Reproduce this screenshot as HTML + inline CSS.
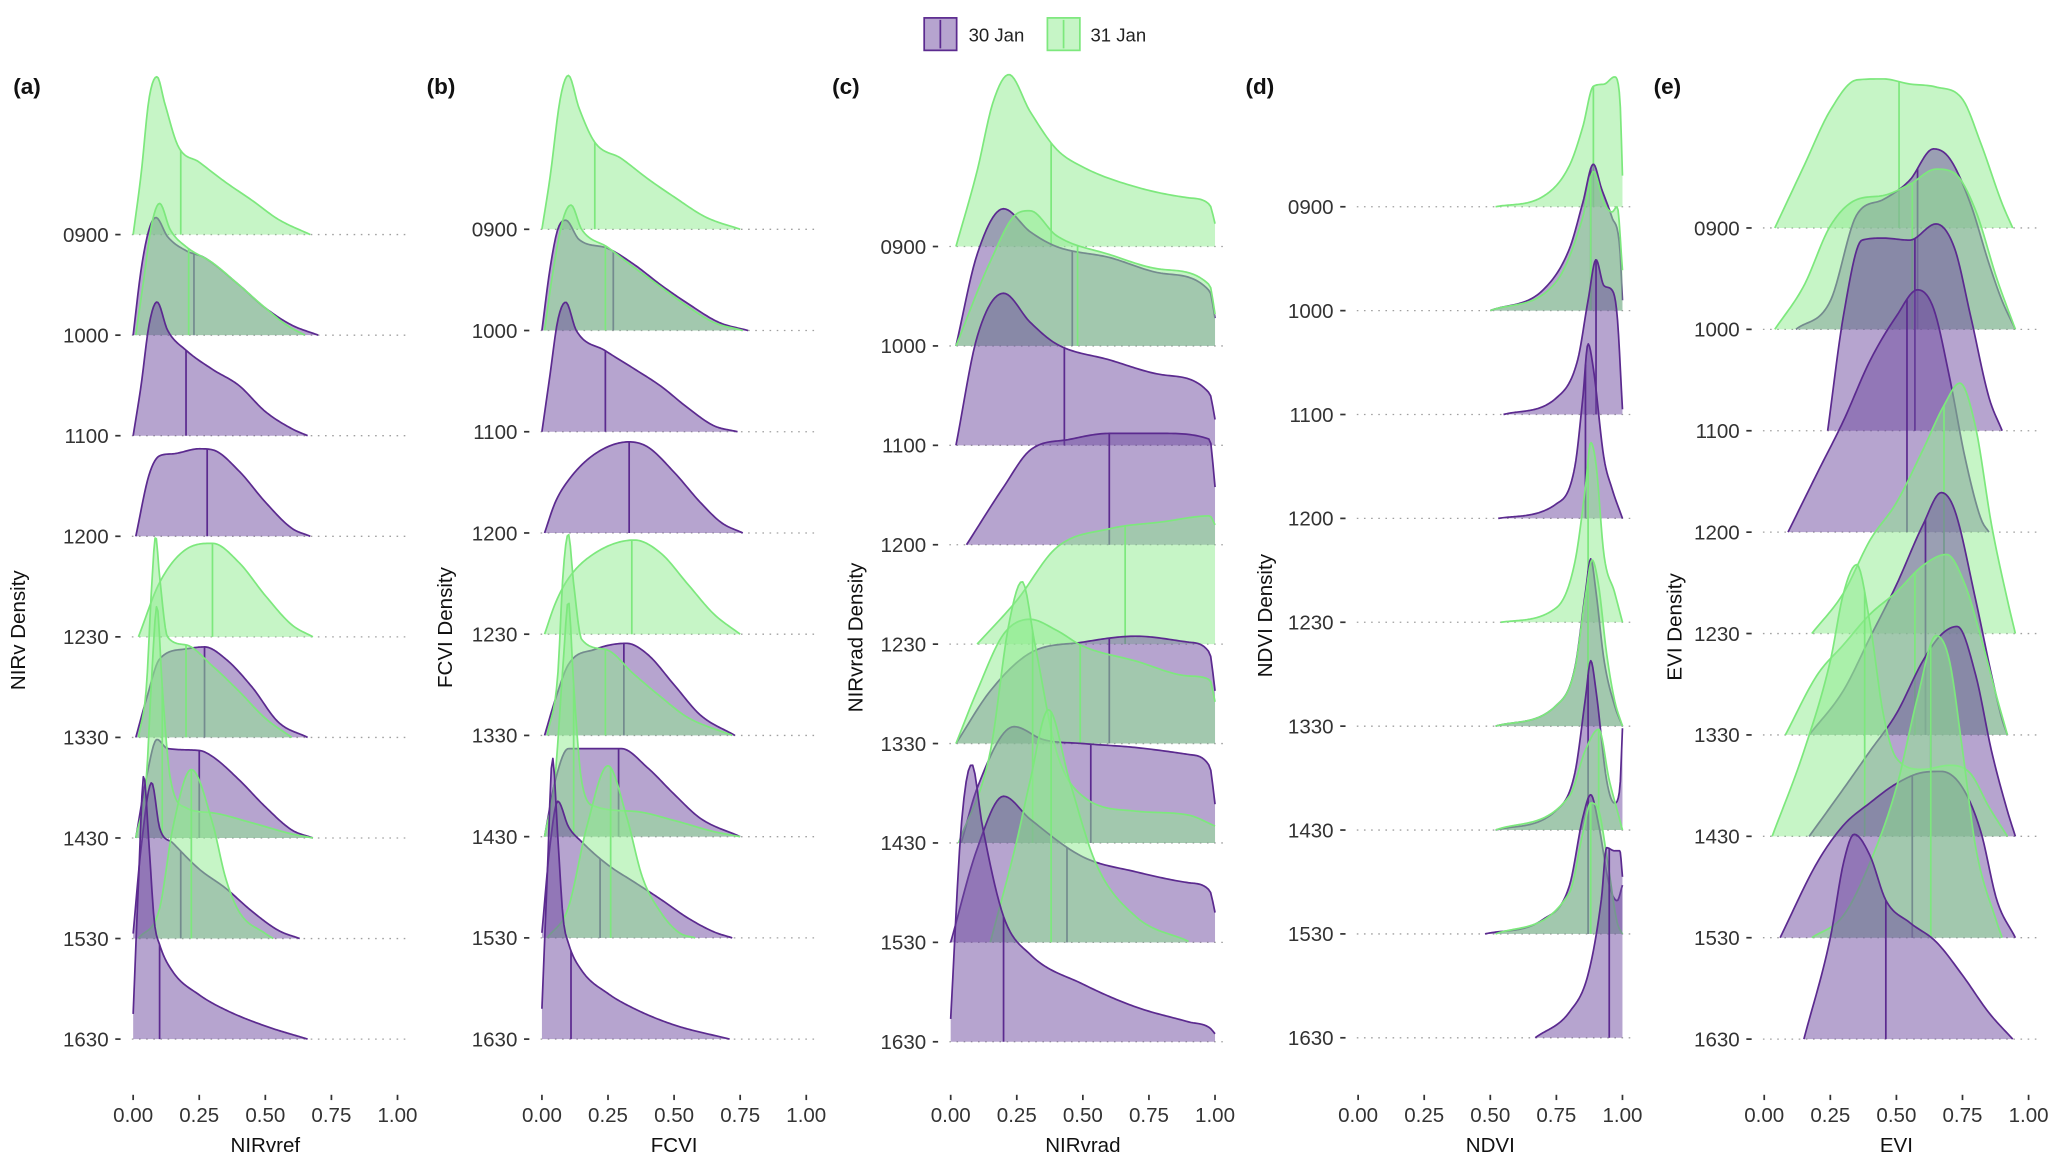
<!DOCTYPE html>
<html><head><meta charset="utf-8"><title>Ridgeline densities</title>
<style>
html,body{margin:0;padding:0;background:#fff;}
svg{display:block;}
text{font-family:"Liberation Sans",Arial,sans-serif;}
</style></head>
<body>
<svg id="chart" width="2067" height="1169" viewBox="0 0 1560 882" preserveAspectRatio="none" xmlns="http://www.w3.org/2000/svg">
  <g>
    <rect x="697.5" y="13.5" width="24.5" height="24.5" fill="#6d499f" fill-opacity="0.5" stroke="#5b2a8f" stroke-width="1.3"/>
    <line x1="709.7" y1="15" x2="709.7" y2="36.5" stroke="#5b2a8f" stroke-width="1.3"/>
    <text x="731" y="31.5" font-size="14" fill="#222">30 Jan</text>
    <rect x="790.5" y="13.5" width="24.5" height="24.5" fill="#8deb8d" fill-opacity="0.5" stroke="#7de87d" stroke-width="1.3"/>
    <line x1="802.7" y1="15" x2="802.7" y2="36.5" stroke="#7de87d" stroke-width="1.3"/>
    <text x="823" y="31.5" font-size="14" fill="#222">31 Jan</text>
  </g>
</svg>
<script>
// ---------- data ----------
const rowLabels = ['0900','1000','1100','1200','1230','1330','1430','1530','1630'];
const xTickValues = [0, 0.25, 0.5, 0.75, 1.0];
const xTickLabels = ['0.00','0.25','0.50','0.75','1.00'];
const panelLetters = ['(a)','(b)','(c)','(d)','(e)'];
const xTitles = ['NIRvref','FCVI','NIRvrad','NDVI','EVI'];
const yTitles = ['NIRv Density','FCVI Density','NIRvrad Density','NDVI Density','EVI Density'];
const dateNames = ['30 Jan','31 Jan'];
// ridge: row index, date index (0 = 30 Jan, 1 = 31 Jan), median, x values, density heights (in row units)
const ridgesA = [
 {row:0,date:1,med:0.18,x:[0,.03,.06,.09,.12,.17,.25,.35,.45,.55,.67],h:[0,.6,1.35,1.57,1.3,.88,.72,.52,.34,.15,0]},
 {row:1,date:0,med:0.23,x:[0,.03,.06,.086,.13,.2,.27,.4,.5,.6,.7],h:[0,.65,1.05,1.17,.98,.84,.77,.5,.27,.1,0]},
 {row:1,date:1,med:0.21,x:[0.01,.04,.07,.1,.14,.2,.3,.4,.5,.58,.65],h:[0,.55,1.1,1.31,1.05,.88,.72,.5,.27,.1,0]},
 {row:2,date:0,med:0.2,x:[0,.03,.06,.09,.13,.2,.3,.4,.5,.6,.66],h:[0,.5,1.1,1.33,1.05,.85,.66,.5,.24,.07,0]},
 {row:3,date:0,med:0.28,x:[0.01,.06,.1,.15,.25,.3,.4,.5,.6,.67],h:[0,.61,.8,.82,.87,.86,.65,.34,.08,0]},
 {row:4,date:1,med:0.3,x:[0.02,.1,.2,.3,.4,.5,.6,.68],h:[0,.54,.87,.93,.74,.41,.12,0]},
 {row:5,date:0,med:0.27,x:[0.01,.05,.1,.2,.27,.35,.45,.55,.66],h:[0,.38,.78,.88,.9,.78,.5,.15,0]},
 {row:5,date:1,med:0.2,x:[0.02,.05,.07,.085,.1,.13,.2,.3,.4,.5,.6],h:[0,.5,1.5,2.0,1.6,1.0,.92,.71,.46,.19,0]},
 {row:6,date:0,med:0.25,x:[0.01,.05,.09,.13,.25,.3,.4,.5,.6,.68],h:[0,.6,.98,.89,.87,.81,.58,.31,.08,0]},
 {row:6,date:1,med:0.11,x:[0.01,.05,.07,.09,.11,.14,.2,.3,.45,.6,.68],h:[0,.6,1.6,2.31,1.5,.6,.3,.25,.15,.04,0]},
 {row:7,date:0,med:0.18,x:[0,.03,.07,.1,.15,.25,.35,.45,.55,.63],h:[0.05,.9,1.55,1.1,.95,.69,.5,.27,.08,0]},
 {row:7,date:1,med:0.22,x:[0.02,.1,.15,.22,.3,.35,.4,.5,.53],h:[0,.3,1.1,1.68,1.15,.6,.27,.05,0]},
 {row:8,date:0,med:0.1,x:[0,.02,.04,.06,.08,.1,.15,.25,.35,.5,.66],h:[0.25,1.55,2.62,1.93,1.17,.94,.67,.44,.29,.13,0]}
];
const ridgesB = [
 {row:0,date:1,med:0.2,x:[0,.03,.07,.1,.14,.2,.3,.4,.5,.62,.75],h:[0,.5,1.3,1.52,1.2,.86,.7,.5,.32,.12,0]},
 {row:1,date:0,med:0.27,x:[0,.03,.06,.09,.14,.25,.35,.45,.55,.67,.78],h:[0,.6,1.0,1.09,.9,.81,.65,.45,.27,.08,0]},
 {row:1,date:1,med:0.24,x:[0.01,.04,.08,.11,.15,.25,.35,.45,.55,.65,.76],h:[0,.55,1.1,1.24,1.0,.82,.62,.43,.24,.08,0]},
 {row:2,date:0,med:0.24,x:[0,.03,.06,.09,.13,.24,.35,.45,.55,.65,.74],h:[0,.55,1.1,1.28,1.0,.8,.62,.45,.24,.06,0]},
 {row:3,date:0,med:0.33,x:[0.01,.05,.1,.2,.33,.4,.5,.6,.68,.76],h:[0,.3,.52,.78,.9,.85,.6,.3,.1,0]},
 {row:4,date:1,med:0.34,x:[0.01,.05,.1,.2,.35,.45,.55,.65,.75],h:[0,.3,.55,.8,.93,.8,.5,.2,0]},
 {row:5,date:0,med:0.31,x:[0.01,.05,.1,.2,.32,.4,.5,.6,.73],h:[0,.35,.7,.85,.91,.8,.5,.2,0]},
 {row:5,date:1,med:0.24,x:[0.02,.06,.08,.1,.12,.15,.24,.35,.45,.55,.72],h:[0,.6,1.6,1.99,1.5,.95,.85,.6,.38,.18,0]},
 {row:6,date:0,med:0.29,x:[0.01,.05,.1,.2,.3,.4,.5,.6,.75],h:[0,.55,.87,.87,.87,.68,.42,.18,0]},
 {row:6,date:1,med:0.12,x:[0.01,.05,.08,.1,.12,.15,.2,.35,.5,.65,.75],h:[0,.6,1.7,2.33,1.5,.55,.3,.25,.16,.05,0]},
 {row:7,date:0,med:0.22,x:[0,.03,.06,.1,.15,.25,.35,.45,.55,.65,.72],h:[0.05,.9,1.35,1.1,.95,.72,.55,.38,.2,.06,0]},
 {row:7,date:1,med:0.26,x:[0.02,.1,.17,.25,.32,.38,.45,.52,.58],h:[0,.3,1.1,1.7,1.2,.6,.25,.05,0]},
 {row:8,date:0,med:0.11,x:[0,.02,.04,.06,.08,.1,.15,.25,.35,.5,.71],h:[0.3,1.6,2.78,2.0,1.2,.95,.68,.45,.3,.14,0]}
];
const ridgesC = [
 {row:0,date:1,med:0.38,x:[0.02,.1,.16,.22,.3,.4,.5,.7,.9,.98,1.0],h:[0,.76,1.45,1.73,1.36,.98,.8,.6,.49,.42,.23]},
 {row:1,date:0,med:0.46,x:[0.02,.1,.2,.3,.4,.6,.8,.98,1.0],h:[0,.92,1.38,1.15,1.0,.89,.73,.55,.28]},
 {row:1,date:1,med:0.48,x:[0.02,.15,.25,.3,.4,.6,.8,.98,1.0],h:[0,.85,1.33,1.36,1.11,.92,.77,.61,.32]},
 {row:2,date:0,med:0.43,x:[0.02,.1,.2,.3,.4,.6,.8,.98,1.0],h:[0,1.09,1.53,1.24,1.02,.86,.71,.52,.26]},
 {row:3,date:0,med:0.6,x:[0.06,.2,.3,.45,.6,.8,.98,1.0],h:[0,.58,.95,1.06,1.12,1.12,1.06,.58]},
 {row:4,date:1,med:0.66,x:[0.1,.25,.4,.6,.8,.98,1.0],h:[0,.44,.97,1.16,1.23,1.29,1.2]},
 {row:5,date:0,med:0.6,x:[0.02,.15,.3,.5,.7,.9,.98,1.0],h:[0,.53,.91,1.02,1.08,1.02,.91,.53]},
 {row:5,date:1,med:0.49,x:[0.02,.1,.2,.3,.4,.5,.7,.9,.98,1.0],h:[0,.53,1.1,1.25,1.14,.98,.83,.68,.64,.42]},
 {row:6,date:0,med:0.53,x:[0.04,.1,.24,.35,.5,.7,.9,.98,1.0],h:[0,.55,1.17,1.04,1.0,.96,.89,.77,.39]},
 {row:6,date:1,med:0.31,x:[0.03,.15,.22,.27,.32,.4,.5,.7,.9,1.0],h:[0,.92,2.2,2.63,1.98,.92,.47,.32,.28,.17]},
 {row:7,date:0,med:0.44,x:[0,.1,.2,.3,.5,.7,.9,.98,1.0],h:[0,.94,1.47,1.24,.86,.71,.6,.52,.3]},
 {row:7,date:1,med:0.38,x:[0.15,.25,.3,.37,.45,.55,.7,.9],h:[0,1.02,1.62,2.34,1.62,.79,.26,0.01]},
 {row:8,date:0,med:0.2,x:[0,.04,.08,.12,.2,.3,.5,.7,.9,.98,1.0],h:[0.23,2.17,2.79,2.17,1.26,.88,.58,.35,.2,.14,.08]}
];
const ridgesD = [
 {row:0,date:1,med:0.89,x:[0.52,.7,.8,.85,.89,.93,.97,.99,1.0],h:[0,.1,.4,.77,1.16,1.18,1.25,1.05,.3]},
 {row:1,date:0,med:0.88,x:[0.5,.7,.8,.85,.89,.92,.96,.99,1.0],h:[0,.2,.6,1.04,1.41,1.18,.9,.6,.1]},
 {row:1,date:1,med:0.88,x:[0.5,.75,.85,.89,.93,.96,.98,1.0],h:[0,.28,.9,1.34,1.04,.95,1.0,.39]},
 {row:2,date:0,med:0.9,x:[0.55,.75,.83,.87,.9,.93,.96,.98,1.0],h:[0,.16,.52,1.1,1.49,1.24,1.2,.95,.05]},
 {row:3,date:0,med:0.86,x:[0.53,.75,.82,.85,.87,.89,.93,.96,1.0],h:[0,.14,.5,1.16,1.68,1.44,.58,.29,0]},
 {row:4,date:1,med:0.87,x:[0.54,.75,.82,.86,.88,.9,.93,.97,1.0],h:[0,.14,.58,1.3,1.73,1.52,.65,.29,0]},
 {row:5,date:0,med:0.87,x:[0.52,.75,.82,.86,.88,.9,.93,.97,1.0],h:[0,.2,.56,1.29,1.61,1.29,.64,.2,0]},
 {row:5,date:1,med:0.87,x:[0.52,.75,.82,.86,.885,.91,.94,.97,1.0],h:[0,.2,.55,1.25,1.6,1.35,.7,.25,0]},
 {row:6,date:0,med:0.87,x:[0.52,.75,.82,.86,.88,.9,.94,.97,.99,1.0],h:[0,.19,.55,1.27,1.63,1.34,.48,.26,.4,.98]},
 {row:6,date:1,med:0.91,x:[0.52,.8,.86,.91,.95,.98,1.0],h:[0,.33,.77,.97,.48,.19,0]},
 {row:7,date:0,med:0.87,x:[0.48,.7,.8,.85,.88,.91,.95,.98,1.0],h:[0,.14,.47,1.12,1.34,1.05,.47,.32,.47]},
 {row:7,date:1,med:0.88,x:[0.52,.8,.85,.88,.91,.94,.98,1.0],h:[0,.4,.97,1.26,1.19,.76,.11,0]},
 {row:8,date:0,med:0.95,x:[0.67,.8,.87,.92,.94,.97,.99,1.0],h:[0,.25,.61,1.33,1.83,1.8,1.8,1.55]}
];
const ridgesE = [
 {row:0,date:1,med:0.51,x:[0.04,.15,.25,.35,.45,.55,.65,.75,.82,.9,.94],h:[0,.61,1.16,1.46,1.47,1.42,1.39,1.27,.83,.24,0]},
 {row:1,date:0,med:0.58,x:[0.12,.25,.35,.45,.55,.64,.7,.78,.85,.9,.95],h:[0,.28,1.13,1.28,1.47,1.78,1.69,1.24,.65,.28,0]},
 {row:1,date:1,med:0.56,x:[0.04,.15,.25,.35,.45,.55,.65,.72,.8,.88,.95],h:[0,.43,1.02,1.28,1.32,1.43,1.58,1.54,1.17,.5,0]},
 {row:2,date:0,med:0.57,x:[0.24,.3,.37,.45,.55,.65,.72,.78,.85,.9],h:[0,1.14,1.88,1.9,1.88,2.04,1.8,1.14,.33,0]},
 {row:3,date:0,med:0.54,x:[0.09,.2,.3,.4,.5,.58,.64,.7,.76,.82,.85],h:[0,.58,1.1,1.69,2.13,2.39,2.21,1.54,.73,.13,0]},
 {row:4,date:1,med:0.68,x:[0.18,.3,.4,.5,.6,.68,.74,.8,.86,.92,.95],h:[0,.4,.92,1.29,1.81,2.25,2.47,2.03,1.07,.33,0]},
 {row:5,date:0,med:0.61,x:[0.17,.3,.4,.5,.6,.67,.72,.8,.86,.9,.92],h:[0,.44,.96,1.48,2.07,2.39,2.22,1.33,.59,.15,0]},
 {row:5,date:1,med:0.57,x:[0.08,.2,.3,.4,.5,.6,.69,.76,.82,.88,.92],h:[0,.59,.89,1.19,1.41,1.67,1.78,1.48,.96,.37,0]},
 {row:6,date:0,med:0.63,x:[0.17,.3,.4,.5,.6,.67,.73,.8,.86,.92,.95],h:[0,.47,.84,1.21,1.73,1.99,2.07,1.59,.84,.25,0]},
 {row:6,date:1,med:0.38,x:[0.03,.15,.25,.3,.35,.4,.45,.5,.6,.7,.78,.85,.92],h:[0,.84,1.73,2.4,2.68,2.1,1.21,.77,.66,.7,.62,.29,0]},
 {row:7,date:0,med:0.56,x:[0.06,.2,.3,.4,.5,.6,.67,.75,.82,.88,.95],h:[0,.74,1.11,1.33,1.52,1.63,1.64,1.48,1.04,.37,0]},
 {row:7,date:1,med:0.63,x:[0.18,.3,.4,.5,.58,.65,.7,.75,.8,.88,.9],h:[0,.22,.74,1.48,2.37,2.98,2.74,1.85,.89,.15,0]},
 {row:8,date:0,med:0.46,x:[0.15,.25,.3,.34,.4,.46,.55,.65,.75,.85,.94],h:[0,1.0,1.74,2.02,1.81,1.37,1.15,.96,.63,.26,0]}
];
const panelRidges = [ridgesA, ridgesB, ridgesC, ridgesD, ridgesE];

// ---------- layout (display units of viewBox) ----------
const panelX0 = [100.5, 409, 717.5, 1025, 1331.5];
const panelW = 199.5;
const panelTopBase = [177, 173, 186, 156, 172];
const panelBottomBase = [784, 784, 786, 783, 784];
const letterX = [10, 322, 628, 940, 1248];
const yTitleX = [19, 341, 651, 960, 1269];
const fills = ['#6d499f','#8deb8d'];
const strokes = ['#5b2a8f','#7de87d'];

const NS = 'http://www.w3.org/2000/svg';
const svg = document.getElementById('chart');
function mk(tag, attrs, parent){
  const e = document.createElementNS(NS, tag);
  for (const k in attrs) e.setAttribute(k, attrs[k]);
  (parent||svg).appendChild(e);
  return e;
}
function interp(xs, ys){
  const n = xs.length, d = [], m = new Array(n);
  for (let i=0;i<n-1;i++) d.push((ys[i+1]-ys[i])/(xs[i+1]-xs[i]));
  m[0]=d[0]; m[n-1]=d[n-2];
  for (let i=1;i<n-1;i++){ m[i] = (d[i-1]*d[i]<=0)?0:(d[i-1]+d[i])/2; }
  for (let i=0;i<n-1;i++){
    if (d[i]===0){m[i]=0;m[i+1]=0;continue;}
    const a=m[i]/d[i], b=m[i+1]/d[i], s=a*a+b*b;
    if (s>9){const t=3/Math.sqrt(s); m[i]=t*a*d[i]; m[i+1]=t*b*d[i];}
  }
  return function(x){
    let i=0; while(i<n-2 && x>xs[i+1]) i++;
    const h=xs[i+1]-xs[i], t=(x-xs[i])/h;
    const t2=t*t, t3=t2*t;
    return (2*t3-3*t2+1)*ys[i]+(t3-2*t2+t)*h*m[i]+(-2*t3+3*t2)*ys[i+1]+(t3-t2)*h*m[i+1];
  };
}

for (let p=0;p<5;p++){
  const x0 = panelX0[p];
  const sp = (panelBottomBase[p]-panelTopBase[p])/(rowLabels.length-1);
  const xs = v => x0 + v*panelW;
  const base = r => panelTopBase[p] + r*sp;
  const g = mk('g', {});
  
  

  const lt = mk('text', {x:letterX[p], y:71, 'font-size':17, 'font-weight':'bold', fill:'#111'}, g);
  
  
  lt.textContent = panelLetters[p];

  const cy = (panelTopBase[p]+panelBottomBase[p])/2 - 5;
  const yt = mk('text', {x:yTitleX[p], y:cy, 'font-size':15.5, fill:'#111', 'text-anchor':'middle', transform:'rotate(-90 '+yTitleX[p]+' '+cy+')'}, g);
  
  
  yt.textContent = yTitles[p];

  rowLabels.forEach((lab, r)=>{
    const y = base(r);
    const gl = mk('line', {x1:x0-1, y1:y, x2:x0+206, y2:y, stroke:'#a0a0a0', 'stroke-width':1, 'stroke-dasharray':'1.2 4.2'}, g);
    
    
    const tk = mk('line', {x1:x0-13.5, y1:y, x2:x0-9.5, y2:y, stroke:'#333', 'stroke-width':1.3}, g);
    
    
    const tl = mk('text', {x:x0-18.5, y:y+5.5, 'font-size':15.5, fill:'#333', 'text-anchor':'end'}, g);
    
    
    tl.textContent = lab;
  });

  panelRidges[p].forEach(rd=>{
    const f = interp(rd.x, rd.h);
    const y0 = base(rd.row);
    const a = rd.x[0], b = rd.x[rd.x.length-1];
    const N = 120;
    let pts = [];
    for (let i=0;i<=N;i++){
      const v = a+(b-a)*i/N;
      pts.push([xs(v), y0 - Math.max(0,f(v))*sp]);
    }
    const line = pts.map((q,i)=>(i?'L':'M')+q[0].toFixed(2)+' '+q[1].toFixed(2)).join(' ');
    const area = 'M'+xs(a).toFixed(2)+' '+y0+' '+line.replace(/^M/,'L')+' L'+xs(b).toFixed(2)+' '+y0+' Z';
    const rg = mk('g', {}, g);
    
    
    const ar = mk('path', {d:area, fill:fills[rd.date], 'fill-opacity':0.5, stroke:'none'}, rg);
    
    
    const ln = mk('path', {d:line, fill:'none', stroke:strokes[rd.date], 'stroke-width':1.3, 'stroke-linejoin':'round'}, rg);
    
    
    const mh = Math.max(0, f(rd.med))*sp;
    const md = mk('line', {x1:xs(rd.med), y1:y0, x2:xs(rd.med), y2:y0-mh, stroke:strokes[rd.date], 'stroke-width':1.3}, rg);
    
    
  });

  xTickValues.forEach((v,i)=>{
    const t = mk('line', {x1:xs(v), y1:826, x2:xs(v), y2:830, stroke:'#333', 'stroke-width':1.3}, g);
    
    
    const tl = mk('text', {x:xs(v), y:846.5, 'font-size':15.5, fill:'#333', 'text-anchor':'middle'}, g);
    
    
    tl.textContent = xTickLabels[i];
  });
  const xt = mk('text', {x:xs(0.5), y:869, 'font-size':15.5, fill:'#111', 'text-anchor':'middle'}, g);
  
  
  xt.textContent = xTitles[p];
}
</script>
</body></html>
